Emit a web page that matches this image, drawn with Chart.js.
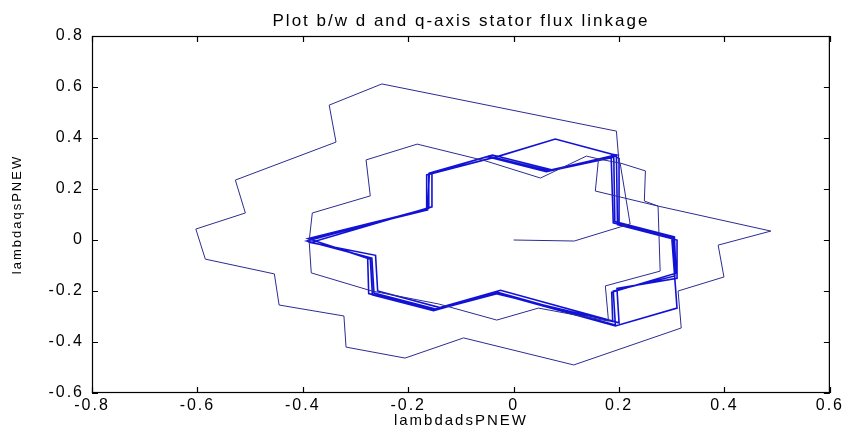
<!DOCTYPE html>
<html>
<head>
<meta charset="utf-8">
<script src="https://cdn.jsdelivr.net/npm/chart.js@4.4.1/dist/chart.umd.min.js"></script>
<style>
  html, body { margin: 0; padding: 0; background: #fff; }
  #wrap { width: 844px; height: 432px; }
</style>
</head>
<body>
<div id="wrap"><canvas id="flux"></canvas></div>
<script>
// Stator flux linkage trajectory: [lambda_ds, lambda_qs] pairs, split by phase

// start from zero flux, first (large) swing
const startup = [
    [0, 0], [0.115, -0.004], [0.202, 0.051], [0.221, 0.063], [0.202, 0.302]
];
const outerLoop = [
    [0.202, 0.302], [0.250, 0.271], [0.248, 0.153], [0.274, 0.133], [0.488, 0.035],
    [0.388, -0.020], [0.399, -0.145], [0.312, -0.200], [0.318, -0.345], [0.114, -0.490],
    [-0.095, -0.384], [-0.206, -0.463], [-0.318, -0.420], [-0.322, -0.298], [-0.445, -0.255],
    [-0.454, -0.133], [-0.585, -0.075], [-0.603, 0.043], [-0.509, 0.106], [-0.528, 0.235],
    [-0.337, 0.384], [-0.350, 0.529], [-0.250, 0.612], [0.195, 0.427], [0.200, 0.302]
];
// second swing, pulled in towards the commanded flux
const middleLoop = [
    [0.161, 0.318], [0.155, 0.192], [0.274, 0.133], [0.278, -0.122], [0.174, -0.180],
    [0.180, -0.318], [0.047, -0.267], [-0.032, -0.314], [-0.142, -0.251], [-0.269, -0.200],
    [-0.384, -0.129], [-0.388, -0.004], [-0.382, 0.106], [-0.272, 0.173], [-0.280, 0.314],
    [-0.183, 0.376], [-0.053, 0.310], [0.051, 0.243], [0.138, 0.329], [0.161, 0.318]
];
// steady state laps
const steady1 = [
    [0.185, 0.329], [0.189, 0.067], [0.303, 0.008], [0.306, -0.141], [0.189, -0.200],
    [0.193, -0.333], [-0.032, -0.204], [-0.148, -0.271], [-0.265, -0.208], [-0.269, -0.071],
    [-0.392, -0.004], [-0.161, 0.125], [-0.161, 0.259], [-0.047, 0.329], [0.066, 0.271],
    [0.185, 0.329]
];
const steady2 = [
    [0.195, 0.333], [0.197, 0.060], [0.310, 0.000], [0.310, -0.150], [0.196, -0.190],
    [0.200, -0.325], [-0.025, -0.197], [-0.140, -0.265], [-0.258, -0.200], [-0.262, -0.060],
    [-0.385, -0.010], [-0.155, 0.130], [-0.155, 0.265], [-0.040, 0.333], [0.072, 0.275],
    [0.195, 0.333]
];
const steady3 = [
    [0.185, 0.337], [0.200, 0.320], [0.200, 0.062], [0.300, 0.010], [0.310, -0.267],
    [0.193, -0.337], [-0.030, -0.210], [-0.150, -0.275], [-0.275, -0.210], [-0.277, -0.070],
    [-0.390, 0.005], [-0.165, 0.120], [-0.165, 0.255], [-0.028, 0.329], [0.079, 0.396],
    [0.185, 0.337]
];
const steady4 = [
    [0.190, 0.325], [0.192, 0.072], [0.305, 0.012], [0.308, -0.130], [0.186, -0.205],
    [0.188, -0.320], [-0.035, -0.210], [-0.152, -0.277], [-0.268, -0.215], [-0.272, -0.075],
    [-0.388, 0.004], [-0.163, 0.118], [-0.160, 0.262], [-0.050, 0.327], [0.062, 0.268],
    [0.190, 0.325]
];

const xTicks = [-0.8, -0.6, -0.4, -0.2, 0, 0.2, 0.4, 0.6];
const yTicks = [-0.6, -0.4, -0.2, 0, 0.2, 0.4, 0.6, 0.8];

const toPoints = pairs => pairs.map(([x, y]) => ({ x, y }));
const tickText = v => (Math.abs(v) < 1e-9 ? '0' : v.toFixed(1));

// wider lettering for every label on the canvas
const wideText = {
    id: 'wideText',
    beforeDraw(chart) { chart.ctx.letterSpacing = '2px'; }
};

// box round the axes with inward ticks on all four sides
const boxAxes = {
    id: 'boxAxes',
    afterDatasetsDraw(chart) {
        const { ctx, chartArea: a, scales } = chart;
        const len = 6;
        ctx.save();
        ctx.strokeStyle = '#000';
        ctx.lineWidth = 1.2;
        ctx.strokeRect(a.left + 0.5, a.top + 0.5, a.right - a.left - 1, a.bottom - a.top - 1);
        ctx.beginPath();
        xTicks.forEach(v => {
            const px = Math.round(scales.x.getPixelForValue(v)) + 0.5;
            ctx.moveTo(px, a.bottom); ctx.lineTo(px, a.bottom - len);
            ctx.moveTo(px, a.top); ctx.lineTo(px, a.top + len);
        });
        yTicks.forEach(v => {
            const py = Math.round(scales.y.getPixelForValue(v)) + 0.5;
            ctx.moveTo(a.left, py); ctx.lineTo(a.left + len, py);
            ctx.moveTo(a.right, py); ctx.lineTo(a.right - len, py);
        });
        ctx.stroke();
        ctx.restore();
    }
};

const family = '"Liberation Sans", Arial, sans-serif';
const noGrid = { display: false, drawTicks: false, tickLength: 0 };

new Chart(document.getElementById('flux'), {
    type: 'scatter',
    data: {
        datasets: [
            {
                label: 'transient',
                data: toPoints([...startup, ...outerLoop, ...middleLoop]),
                showLine: true,
                borderColor: '#2b2b94',
                borderWidth: 1,
                pointRadius: 0,
                tension: 0
            },
            {
                label: 'steady',
                data: toPoints([...steady1, ...steady2, ...steady3, ...steady4]),
                showLine: true,
                borderColor: '#1212d6',
                borderWidth: 1.6,
                pointRadius: 0,
                tension: 0
            }
        ]
    },
    plugins: [wideText, boxAxes],
    options: {
        responsive: true,
        maintainAspectRatio: false,
        animation: false,
        layout: { padding: { left: 0, right: 12, top: 0, bottom: 0 } },
        plugins: {
            legend: { display: false },
            tooltip: { enabled: false },
            title: {
                display: true,
                fullSize: false,
                text: 'Plot b/w d and q-axis stator flux linkage',
                color: '#000',
                font: { family, size: 17, weight: 'normal', lineHeight: 1.2 },
                padding: { top: 11, bottom: 4.6 }
            }
        },
        scales: {
            x: {
                type: 'linear',
                min: -0.8,
                max: 0.6,
                grid: noGrid,
                border: { display: false },
                afterBuildTicks: s => { s.ticks = xTicks.map(v => ({ value: v })); },
                afterFit: s => { s.height = 39; },
                ticks: { color: '#000', font: { family, size: 16 }, padding: 3, callback: tickText, maxRotation: 0 },
                title: { display: true, text: 'lambdadsPNEW', color: '#000', font: { family, size: 15 }, padding: { top: 0, bottom: 2 } }
            },
            y: {
                type: 'linear',
                min: -0.6,
                max: 0.8,
                grid: noGrid,
                border: { display: false },
                afterBuildTicks: s => { s.ticks = yTicks.map(v => ({ value: v })); },
                afterFit: s => { s.width = 92; },
                ticks: { color: '#000', font: { family, size: 16 }, padding: 8, callback: tickText },
                title: { display: true, text: 'lambdaqsPNEW', color: '#000', font: { family, size: 13 }, padding: { top: 10, bottom: 0 } }
            }
        }
    }
});
</script>
</body>
</html>
